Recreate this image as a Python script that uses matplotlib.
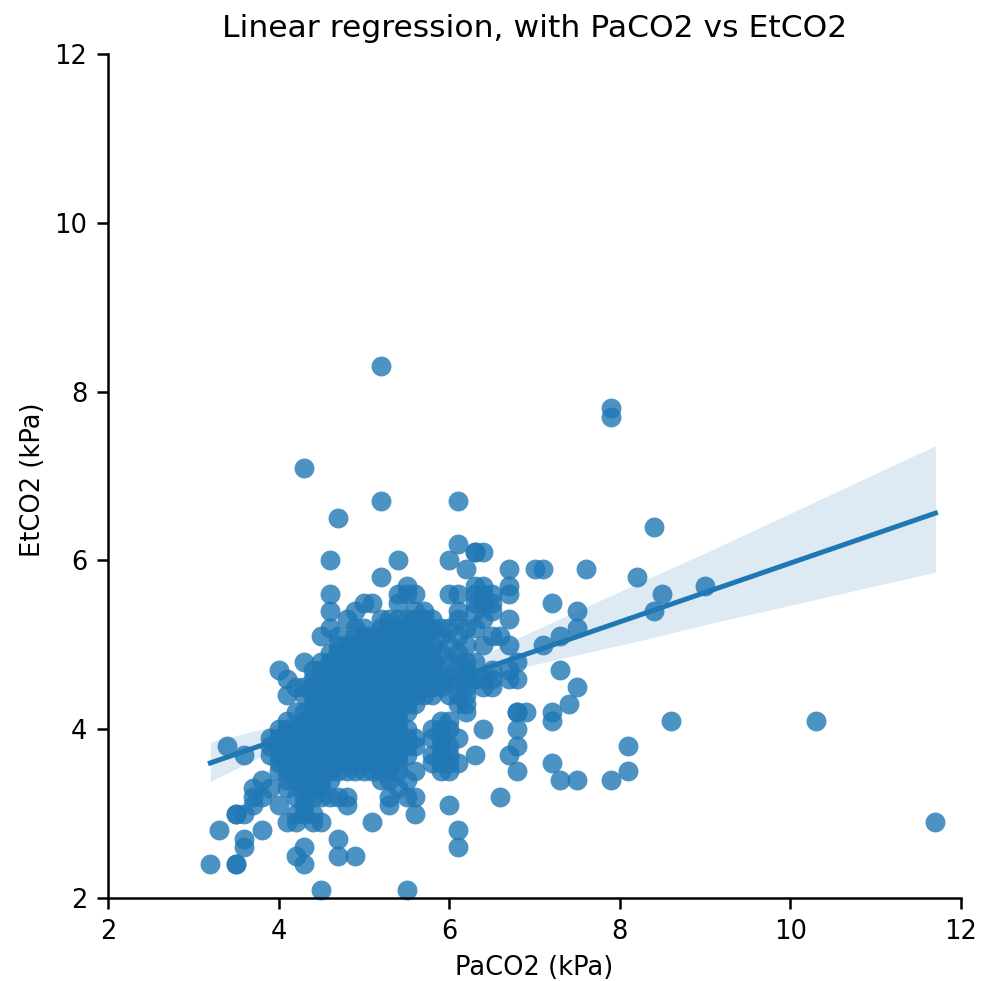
#!/usr/bin/env python
import matplotlib
matplotlib.use("Agg")
import matplotlib.pyplot as plt

BLUE = "#1f77b4"

# PaCO2 readings sit on a 0.1 grid, EtCO2 values listed per PaCO2 level
paco2_levels = [3.2, 3.3, 3.4, 3.5, 3.6, 3.7, 3.8, 3.9, 4.0, 4.1,
                4.2, 4.3, 4.4, 4.5, 4.6, 4.7, 4.8, 4.9, 5.0, 5.1,
                5.2, 5.3, 5.4, 5.5, 5.6, 5.7, 5.8, 5.9, 6.0, 6.1,
                6.2, 6.3, 6.4, 6.5, 6.6, 6.7, 6.8, 6.9, 7.0, 7.1,
                7.2, 7.3, 7.4, 7.5, 7.6, 7.9, 8.1, 8.2, 8.4, 8.5,
                8.6, 9.0, 10.3, 11.7]
etco2_at_level = [
    [2.4],
    [2.8],
    [3.8],
    [2.4, 2.4, 3.0, 3.0],
    [2.6, 2.7, 3.0, 3.7],
    [3.1, 3.2, 3.3],
    [2.8, 3.2, 3.4],
    [3.3, 3.7, 3.8, 3.9],
    [3.1, 3.5, 3.6, 3.7, 3.8, 3.9, 4.0, 4.7],
    [2.9, 3.3, 3.4, 3.5, 3.6, 3.7, 3.8, 3.9, 4.0, 4.1, 4.4, 4.6],
    [2.5, 2.9, 3.0, 3.2, 3.4, 3.5, 3.6, 3.7, 3.8, 3.9, 4.0, 4.2, 4.5],
    [2.4, 2.6, 3.0, 3.1, 3.2, 3.3, 3.4, 3.5, 3.6, 3.7, 3.8, 3.9, 4.0, 4.1, 4.2, 4.4, 4.5, 4.8, 7.1],
    [2.9, 3.0, 3.2, 3.3, 3.4, 3.5, 3.6, 3.7, 3.8, 3.9, 4.0, 4.1, 4.2, 4.3, 4.4, 4.5, 4.6, 4.7],
    [2.1, 2.9, 3.2, 3.3, 3.4, 3.5, 3.6, 3.7, 3.8, 3.9, 4.0, 4.1, 4.2, 4.3, 4.4, 4.5, 4.6, 4.7, 4.8, 5.1],
    [3.2, 3.4, 3.5, 3.6, 3.7, 3.8, 3.9, 4.0, 4.1, 4.2, 4.3, 4.4, 4.5, 4.6, 4.7, 4.8, 4.9, 5.2, 5.4, 5.6, 6.0],
    [2.5, 2.7, 3.2, 3.5, 3.6, 3.7, 3.8, 3.9, 4.0, 4.1, 4.2, 4.3, 4.4, 4.5, 4.6, 4.7, 4.8, 4.9, 5.0, 5.1, 6.5],
    [3.1, 3.2, 3.5, 3.6, 3.7, 3.8, 3.9, 4.0, 4.1, 4.2, 4.3, 4.4, 4.5, 4.6, 4.7, 4.8, 4.9, 5.0, 5.3],
    [2.5, 3.5, 3.6, 3.7, 3.8, 3.9, 4.0, 4.1, 4.2, 4.3, 4.4, 4.5, 4.6, 4.7, 4.8, 4.9, 5.0, 5.1, 5.2, 5.4],
    [3.5, 3.6, 3.7, 3.8, 3.9, 4.0, 4.1, 4.2, 4.3, 4.4, 4.5, 4.6, 4.7, 4.8, 4.9, 5.0, 5.1, 5.2, 5.5],
    [2.9, 3.5, 3.6, 3.7, 3.8, 3.9, 4.0, 4.1, 4.2, 4.3, 4.4, 4.5, 4.6, 4.7, 4.8, 4.9, 5.0, 5.1, 5.5],
    [3.4, 3.5, 3.6, 3.7, 3.8, 3.9, 4.0, 4.1, 4.2, 4.3, 4.4, 4.5, 4.6, 4.7, 4.8, 4.9, 5.0, 5.1, 5.2, 5.3, 5.8, 6.7, 8.3],
    [3.1, 3.2, 3.4, 3.5, 3.6, 3.7, 3.8, 3.9, 4.0, 4.1, 4.2, 4.3, 4.4, 4.5, 4.6, 4.7, 4.8, 4.9, 5.0, 5.1, 5.2, 5.3],
    [3.3, 3.5, 3.6, 3.7, 3.8, 3.9, 4.0, 4.1, 4.2, 4.3, 4.4, 4.5, 4.6, 4.7, 4.8, 4.9, 5.0, 5.1, 5.2, 5.3, 5.5, 5.6, 6.0],
    [2.1, 3.2, 3.4, 3.7, 3.8, 3.9, 4.0, 4.2, 4.3, 4.4, 4.5, 4.6, 4.7, 4.8, 4.9, 5.0, 5.1, 5.2, 5.3, 5.6, 5.7],
    [3.0, 3.2, 3.5, 3.8, 3.9, 4.3, 4.4, 4.5, 4.6, 4.7, 4.8, 4.9, 5.0, 5.1, 5.2, 5.3, 5.4, 5.6],
    [4.4, 4.5, 4.6, 4.7, 4.8, 4.9, 5.0, 5.1, 5.2, 5.3, 5.4],
    [3.6, 3.7, 3.9, 4.0, 4.4, 4.5, 4.6, 4.7, 4.8, 4.9, 5.0, 5.2, 5.3],
    [3.5, 3.6, 3.7, 3.8, 3.9, 4.0, 4.1, 4.5, 4.6, 4.7, 4.9, 5.1, 5.2],
    [3.1, 3.5, 3.6, 3.7, 3.8, 4.0, 4.1, 4.4, 4.6, 4.8, 5.0, 5.2, 5.6, 6.0],
    [2.6, 2.8, 3.6, 3.9, 4.3, 4.4, 4.6, 4.8, 4.9, 5.1, 5.3, 5.4, 5.6, 6.2, 6.7],
    [4.2, 4.3, 4.4, 4.5, 4.6, 4.7, 4.8, 5.0, 5.2, 5.9],
    [3.7, 4.6, 4.8, 5.2, 5.4, 5.5, 5.6, 5.7, 6.1, 6.1],
    [4.0, 4.5, 4.6, 5.0, 5.3, 5.5, 5.6, 5.7, 6.1],
    [4.5, 4.6, 4.7, 5.1, 5.4, 5.5, 5.6],
    [3.2, 5.1],
    [3.7, 4.6, 4.7, 5.0, 5.3, 5.6, 5.7, 5.9],
    [3.5, 3.8, 4.0, 4.2, 4.2, 4.6, 4.8],
    [4.2],
    [5.9],
    [5.0, 5.9],
    [3.6, 4.1, 4.2, 5.5],
    [3.4, 4.7, 5.1],
    [4.3],
    [3.4, 4.5, 5.2, 5.4],
    [5.9],
    [3.4, 7.7, 7.8],
    [3.5, 3.8],
    [5.8],
    [5.4, 6.4],
    [5.6],
    [4.1],
    [5.7],
    [4.1],
    [2.9],
]

paco2 = []
etco2 = []
for level, values in zip(paco2_levels, etco2_at_level):
    for v in values:
        paco2.append(level)
        etco2.append(v)

# fitted line and confidence band, read at a few PaCO2 positions
fit_x = [3.2, 11.7]
fit_y = [3.6, 6.56]
band_x = [3.2, 4.0, 4.6, 5.1, 5.6, 6.2, 6.8, 8.32, 9.09, 11.7]
band_low = [3.38, 3.78, 4.04, 4.21, 4.37, 4.53, 4.72, 5.07, 5.26, 5.86]
band_high = [3.85, 4.05, 4.22, 4.36, 4.54, 4.78, 5.08, 5.78, 6.13, 7.36]

tick_values = [2, 4, 6, 8, 10, 12]

fig = plt.figure(figsize=(9.88, 9.81), dpi=100)
ax = fig.add_axes([108 / 988, 1 - 898 / 981, (961 - 108) / 988, (898 - 54) / 981])

ax.scatter(paco2, etco2, s=205, color=BLUE, alpha=0.8, linewidths=0, clip_on=False, zorder=2)
ax.fill_between(band_x, band_low, band_high, color=BLUE, alpha=0.15, linewidth=0, zorder=3)
ax.plot(fit_x, fit_y, color=BLUE, lw=3.6, zorder=4)

ax.set_xlim(2, 12)
ax.set_ylim(2, 12)
ax.set_xticks(tick_values)
ax.set_yticks(tick_values)
ax.tick_params(labelsize=18.5, length=8, width=1.8, pad=7)
ax.spines["top"].set_visible(False)
ax.spines["right"].set_visible(False)
ax.spines["left"].set_linewidth(1.8)
ax.spines["bottom"].set_linewidth(1.8)
ax.set_xlabel("PaCO2 (kPa)", fontsize=18.5, labelpad=7)
ax.set_ylabel("EtCO2 (kPa)", fontsize=18.5, labelpad=6, y=0.495)
ax.set_title("Linear regression, with PaCO2 vs EtCO2", fontsize=22.6, pad=12)

fig.savefig("out.png", dpi=100)
